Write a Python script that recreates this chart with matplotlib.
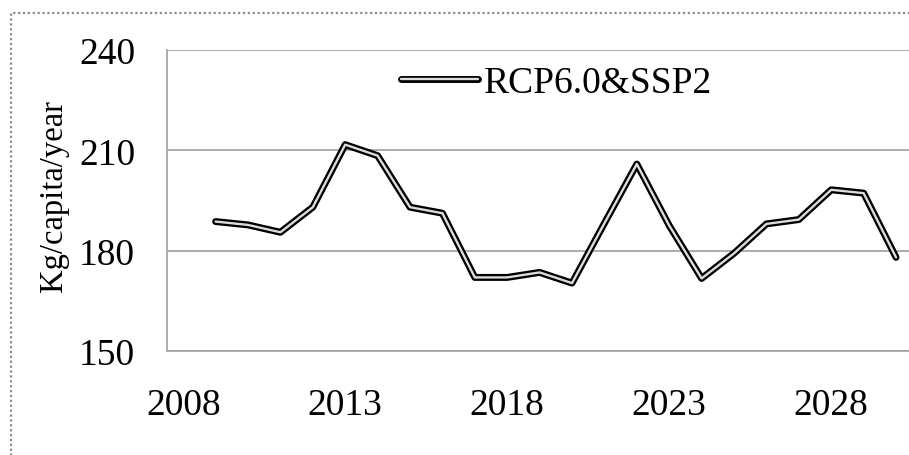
import matplotlib
matplotlib.use("Agg")
import matplotlib.pyplot as plt
from matplotlib.lines import Line2D
from matplotlib.legend_handler import HandlerTuple
from matplotlib.patches import Rectangle

years = list(range(2009, 2031))
values = [188.7, 187.7, 185.5, 193.0, 211.7, 208.4, 193.0, 191.2, 172.0, 172.0,
          173.5, 170.3, 188.2, 205.9, 187.5, 171.7, 179.2, 188.0, 189.3, 198.2,
          197.2, 178.0]
series_name = "RCP6.0&SSP2"
xticks = [2008, 2013, 2018, 2023, 2028]
yticks = [150, 180, 210, 240]
ylabel = "Kg/capita/year"

plt.rcParams['font.family'] = ['Liberation Serif', 'DejaVu Serif']

W, H = 909, 456
fig = plt.figure(figsize=(W / 100, H / 100), dpi=100)
ax = fig.add_axes([167 / W, 1 - 352 / H, 1 - 167 / W + 0.01, (352 - 51) / H])

OUT_LW, IN_LW = 5.0, 1.7
IN_COL = '#dcdcdc'
ax.plot(years, values, color='black', lw=OUT_LW, solid_capstyle='round',
        solid_joinstyle='round', zorder=3)
ax.plot(years, values, color=IN_COL, lw=IN_LW, solid_capstyle='round',
        solid_joinstyle='round', zorder=4)

ax.set_xlim(2007.5, 2030.4 + 0.01 * W / 32.4)
ax.set_ylim(150, 240)
ax.set_xticks(xticks)
ax.set_yticks(yticks)
ax.tick_params(axis='both', length=0, labelsize=27)
ax.tick_params(axis='x', pad=26)
ax.tick_params(axis='y', pad=23)
ax.grid(axis='y', color='#a6a6a6', lw=1.3)
ax.set_axisbelow(True)
for s in ['right', 'top']:
    ax.spines[s].set_visible(False)
for s in ['left', 'bottom']:
    ax.spines[s].set_color('#a6a6a6')
    ax.spines[s].set_linewidth(1.3)

ax.set_ylabel(ylabel, fontsize=23.5)
ax.yaxis.set_label_coords(-0.13, 0.518)

h_outer = Line2D([], [], color='black', lw=OUT_LW, solid_capstyle='round')
h_inner = Line2D([], [], color=IN_COL, lw=IN_LW, solid_capstyle='round')
fig.legend([(h_outer, h_inner)], [series_name],
           handler_map={tuple: HandlerTuple(ndivide=1, pad=0)},
           loc='center left', bbox_to_anchor=(401 / W, 1 - 84 / H),
           frameon=False, fontsize=27, borderpad=0, borderaxespad=0,
           handlelength=2.05, handletextpad=0.15)

fig.patches.append(Rectangle((11 / W, 0 - 0.05), 1.0, 1 - 14 / H + 0.05,
                             transform=fig.transFigure, fill=False,
                             edgecolor='#8c8c8c', lw=1.6, linestyle=(0, (1, 1.2)),
                             figure=fig))

fig.savefig("out.png", dpi=100)
